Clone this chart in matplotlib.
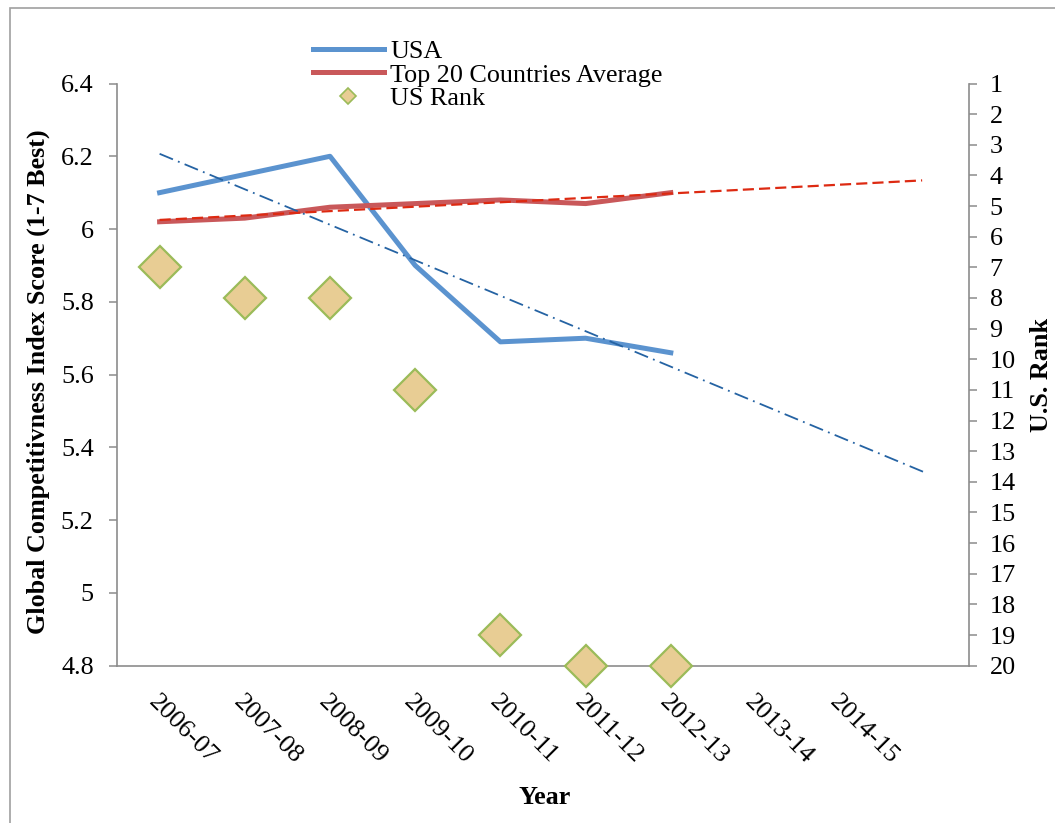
import numpy as np
import matplotlib.pyplot as plt
from matplotlib.lines import Line2D
from matplotlib.patches import Rectangle
from matplotlib.ticker import FuncFormatter
from matplotlib.transforms import ScaledTranslation

years = ["2006-07", "2007-08", "2008-09", "2009-10", "2010-11",
         "2011-12", "2012-13", "2013-14", "2014-15"]
usa = [6.10, 6.15, 6.20, 5.90, 5.69, 5.70, 5.66]
top20 = [6.02, 6.03, 6.06, 6.07, 6.08, 6.07, 6.10]
us_rank = [7, 8, 8, 11, 19, 20, 20]

# how far the linear trendlines are carried forward (category index)
trend_end_usa = 9.0
trend_end_avg = 8.95

plt.rcParams['font.family'] = ['Liberation Serif', 'DejaVu Serif']
plt.rcParams['font.size'] = 18.8

grey = '#8C8C8C'

fig = plt.figure(figsize=(10.55, 8.23), dpi=100)
ax1 = fig.add_axes([117/1055, 1 - 665.7/823, 852/1055, 582.2/823])
ax2 = ax1.twinx()

x = np.arange(len(usa))
ax1.plot(x, usa, color='#5B93CF', lw=3.6, label='USA')
ax1.plot(x, top20, color='#C9585A', lw=3.6, label='Top 20 Countries Average')

# linear trendlines
k, b = np.polyfit(x, usa, 1)
xt = np.array([0, trend_end_usa])
ax1.plot(xt, b + k * xt, color='#2563A3', lw=1.3, dashes=(8, 3, 1, 3))
k, b = np.polyfit(x, top20, 1)
xt = np.array([0, trend_end_avg])
ax1.plot(xt, b + k * xt, color='#DD2A12', lw=1.6, dashes=(5, 2.3))

ax2.plot(x, us_rank, 'D', ms=21, mfc='#E8CD94', mec='#9BBB59', mew=1.6,
         clip_on=False, zorder=5)

ax1.set_xlim(-0.5, 9.5)
ax1.set_ylim(4.8, 6.4)
ax1.set_yticks(np.arange(4.8, 6.41, 0.2))
ax1.yaxis.set_major_formatter(FuncFormatter(lambda v, _: f'{v:g}'))
ax1.set_xticks(range(len(years)))
ax1.set_xticklabels(years, rotation=-45, ha='left', va='top',
                    rotation_mode='anchor')
shift = ScaledTranslation(11/100, 0, fig.dpi_scale_trans)
for lbl in ax1.get_xticklabels():
    lbl.set_transform(lbl.get_transform() + shift)

ax2.set_ylim(20, 1)
ax2.set_yticks(range(1, 21))

for ax in (ax1, ax2):
    for s in ax.spines.values():
        s.set_color(grey)
        s.set_linewidth(1.2)
    ax.spines['top'].set_visible(False)
ax1.spines['right'].set_visible(False)
ax2.spines['left'].set_visible(False)
ax2.spines['bottom'].set_visible(False)

ax1.tick_params(axis='y', direction='out', length=5.8, width=1.1,
                color=grey, pad=11)
ax1.tick_params(axis='x', length=0, pad=18)
ax2.tick_params(axis='y', direction='out', length=5.8, width=1.1,
                color=grey, pad=9)

ax1.set_ylabel('Global Competitivness Index Score (1-7 Best)',
               fontweight='bold')
ax1.yaxis.set_label_coords(-0.079, 0.488)
ax1.set_xlabel('Year', fontweight='bold')
ax1.xaxis.set_label_coords(0.502, -0.207)
ax2.set_ylabel('U.S. Rank', fontweight='bold')
ax2.yaxis.set_label_coords(1.0716, 0.5)

handles = [Line2D([], [], color='#5B93CF', lw=3.6),
           Line2D([], [], color='#C9585A', lw=3.6),
           Line2D([], [], ls='none', marker='D', ms=8.5, mfc='#E8CD94',
                  mec='#9BBB59', mew=1.2)]
fig.legend(handles, ['USA', 'Top 20 Countries Average', 'US Rank'],
           loc='upper left', bbox_to_anchor=(313/1055, 1 - 40/823),
           frameon=False, borderpad=0, borderaxespad=0, handlelength=2.7,
           handletextpad=0.25, labelspacing=0.0)

# chart area border
fig.patches.append(Rectangle((10/1055, -0.1), 1.2, 1.1 - 8/823,
                             transform=fig.transFigure, fill=False,
                             ec='#A0A0A0', lw=1.2))

fig.savefig('out.png', dpi=100)
